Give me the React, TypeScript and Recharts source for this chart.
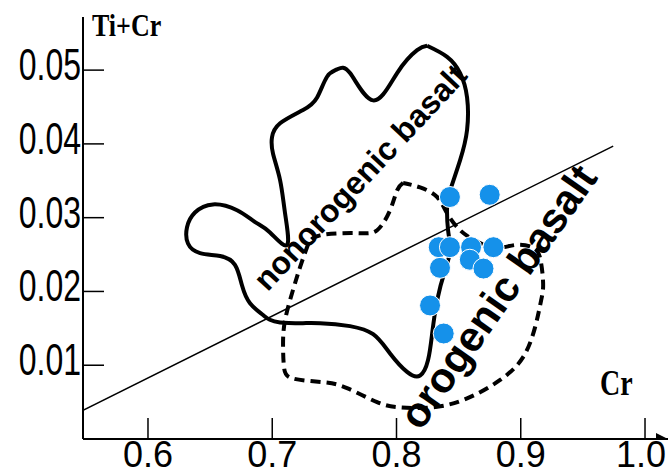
import { ScatterChart, Scatter, XAxis, YAxis } from 'recharts'

// axis ranges (Cr on x, Ti+Cr on y)
const X_MIN = 0.5477
const X_MAX = 1.0185
const Y_MIN = 0
const Y_MAX = 0.0572
const xTicks = [0.6, 0.7, 0.8, 0.9, 1.0]
const yTicks = [0.01, 0.02, 0.03, 0.04, 0.05]

// samples
const sampleCr = [0.843, 0.875, 0.834, 0.843, 0.86, 0.878, 0.859, 0.835, 0.87, 0.827, 0.838]
const sampleTiCr = [0.0328, 0.0331, 0.026, 0.026, 0.026, 0.026, 0.0243, 0.0232, 0.0231, 0.0181, 0.0143]

// nonorogenic basalt field (solid outline)
const nonorogenicCr = [
  0.8246, 0.8166, 0.8005, 0.7812, 0.7626, 0.7522, 0.7441, 0.7361, 0.7248, 0.7063, 0.6998, 0.7006,
  0.7063, 0.7103, 0.7119, 0.6982, 0.6862, 0.6717, 0.6523, 0.6378, 0.6314, 0.6322, 0.6419, 0.658,
  0.67, 0.6757, 0.6821, 0.6926, 0.7063, 0.7385, 0.7626, 0.7812, 0.7948, 0.8085, 0.819, 0.8254,
  0.8287, 0.8327, 0.8391, 0.8432, 0.8415, 0.8407, 0.8432, 0.8512, 0.8568, 0.8568, 0.8512, 0.8407,
  0.8246,
]
const nonorogenicTiCr = [
  0.0533, 0.0527, 0.0496, 0.0459, 0.0496, 0.0501, 0.0491, 0.0463, 0.0446, 0.0428, 0.0409, 0.0387,
  0.0351, 0.0306, 0.0263, 0.028, 0.0294, 0.031, 0.0318, 0.0307, 0.0287, 0.0265, 0.0252, 0.0248,
  0.0236, 0.0208, 0.0184, 0.0168, 0.0158, 0.0157, 0.0153, 0.0142, 0.0116, 0.0091, 0.0086, 0.0107,
  0.0143, 0.0188, 0.0229, 0.0256, 0.0283, 0.0314, 0.0337, 0.0378, 0.0419, 0.0463, 0.0496, 0.0518,
  0.0533,
]

// orogenic basalt field (dashed outline)
const orogenicCr = [
  0.8053, 0.8005, 0.7948, 0.7844, 0.7683, 0.7385, 0.728, 0.7224, 0.7167, 0.7103, 0.7087, 0.7095,
  0.7167, 0.7409, 0.7602, 0.7844, 0.8029, 0.8295, 0.8568, 0.8834, 0.9019, 0.9116, 0.9164, 0.918,
  0.9156, 0.9092, 0.8955, 0.8794, 0.8633, 0.8512, 0.8407, 0.8327, 0.819, 0.8053,
]
const orogenicTiCr = [
  0.0347, 0.0337, 0.031, 0.0283, 0.0279, 0.0276, 0.026, 0.0233, 0.0202, 0.0161, 0.0127, 0.0097,
  0.0082, 0.0077, 0.0069, 0.005, 0.0043, 0.0043, 0.0055, 0.008, 0.0111, 0.0152, 0.0188, 0.0211,
  0.0245, 0.026, 0.0263, 0.0259, 0.0269, 0.0283, 0.0306, 0.0328, 0.0341, 0.0347,
]

// discriminant line
const lineCr = [0.5477, 0.9744]
const lineTiCr = [0.0039, 0.0397]

// field names and where they sit
const fieldNames = ['nonorogenic basalt', 'orogenic basalt']
const fieldLabelCr = [0.7706, 0.8815]
const fieldLabelTiCr = [0.0355, 0.0193]

const FONT = '"Liberation Sans", Arial, sans-serif'
const SERIF = '"Liberation Serif", "Times New Roman", serif'
const CHART_W = 668

const toPoints = (xs: number[], ys: number[]) => xs.map((x, i) => ({ x, y: ys[i] }))

const samples = toPoints(sampleCr, sampleTiCr)
const nonorogenic = toPoints(nonorogenicCr, nonorogenicTiCr)
const orogenic = toPoints(orogenicCr, orogenicTiCr)
const divider = toPoints(lineCr, lineTiCr)
const labels = fieldNames.map((name, i) => ({ x: fieldLabelCr[i], y: fieldLabelTiCr[i], name }))
const arrowTip = [{ x: X_MAX, y: Y_MIN }]

function XTick({ x, y, payload }: any) {
  // last label would run off the right edge, so pin it there
  const fits = x + 27 < CHART_W
  return (
    <g>
      <line x1={x} y1={y} x2={x} y2={y - 21} stroke="#000" strokeWidth={1.5} />
      <text
        x={fits ? x : CHART_W - 2}
        y={y + 28}
        textAnchor={fits ? 'middle' : 'end'}
        fontFamily={FONT}
        fontSize={36}
        fill="#000"
      >
        {payload.value.toFixed(1)}
      </text>
    </g>
  )
}

function YTick({ x, y, payload }: any) {
  return (
    <g>
      <line x1={x} y1={y} x2={x + 21} y2={y} stroke="#000" strokeWidth={1.5} />
      <text
        transform={`translate(${x - 2},${y + 10}) scale(1,1.36)`}
        textAnchor="end"
        fontFamily={FONT}
        fontSize={32}
        fill="#000"
      >
        {payload.value.toFixed(2)}
      </text>
    </g>
  )
}

const noShape = () => <g />

const SampleDot = (p: any) => (
  <circle cx={p.cx} cy={p.cy} r={10.5} fill="#1591EA" stroke="#fff" strokeWidth={1} />
)

const Arrow = (p: any) => (
  <path d={`M${p.cx},${p.cy} L${p.cx - 12},${p.cy - 6} L${p.cx - 12},${p.cy + 6} Z`} fill="#000" />
)

const fieldLabel = (angle: number, size: number) => (p: any) => {
  const name = p.payload?.name ?? p.name
  return (
    <text
      transform={`translate(${p.cx},${p.cy}) rotate(${angle})`}
      textAnchor="middle"
      dominantBaseline="central"
      fontFamily={FONT}
      fontWeight="bold"
      fontSize={size}
      fill="#000"
    >
      {name}
    </text>
  )
}

const yTitle = (props: any) => {
  const vb = props.viewBox
  return (
    <text
      transform={`translate(${vb.x + vb.width + 9},${vb.y + 19}) scale(1,1.25)`}
      fontFamily={SERIF}
      fontWeight="bold"
      fontSize={26}
      fill="#000"
    >
      Ti+Cr
    </text>
  )
}

const xTitle = (props: any) => {
  const vb = props.viewBox
  return (
    <text
      transform={`translate(${vb.x + 517},${vb.y - 44}) scale(1,1.25)`}
      fontFamily={SERIF}
      fontWeight="bold"
      fontSize={28}
      fill="#000"
    >
      Cr
    </text>
  )
}

export default function App() {
  return (
    <div style={{ position: 'absolute', left: 0, top: 0, background: '#fff' }}>
      <ScatterChart width={CHART_W} height={475} margin={{ top: 17, right: 0, bottom: 0, left: 0 }}>
        <XAxis
          type="number"
          dataKey="x"
          domain={[X_MIN, X_MAX]}
          allowDataOverflow
          ticks={xTicks}
          height={36}
          tickSize={0}
          tickMargin={0}
          tickLine={false}
          axisLine={{ stroke: '#000', strokeWidth: 2 }}
          tick={XTick}
          label={xTitle}
        />
        <YAxis
          type="number"
          dataKey="y"
          domain={[Y_MIN, Y_MAX]}
          allowDataOverflow
          ticks={yTicks}
          width={83}
          tickSize={0}
          tickMargin={0}
          tickLine={false}
          axisLine={{ stroke: '#000', strokeWidth: 2 }}
          tick={YTick}
          label={yTitle}
        />
        <Scatter
          data={nonorogenic}
          line={{ stroke: '#000', strokeWidth: 4, fill: 'none' }}
          lineType="joint"
          lineJointType="natural"
          shape={noShape}
          isAnimationActive={false}
        />
        <Scatter
          data={orogenic}
          line={{ stroke: '#000', strokeWidth: 4, strokeDasharray: '10 6', fill: 'none' }}
          lineType="joint"
          lineJointType="natural"
          shape={noShape}
          isAnimationActive={false}
        />
        <Scatter
          data={divider}
          line={{ stroke: '#000', strokeWidth: 1.5 }}
          lineType="joint"
          shape={noShape}
          isAnimationActive={false}
        />
        <Scatter data={[labels[0]]} shape={fieldLabel(-47, 32)} isAnimationActive={false} />
        <Scatter data={[labels[1]]} shape={fieldLabel(-55, 42)} isAnimationActive={false} />
        <Scatter data={arrowTip} shape={Arrow} isAnimationActive={false} />
        <Scatter data={samples} shape={SampleDot} isAnimationActive={false} />
      </ScatterChart>
    </div>
  )
}
